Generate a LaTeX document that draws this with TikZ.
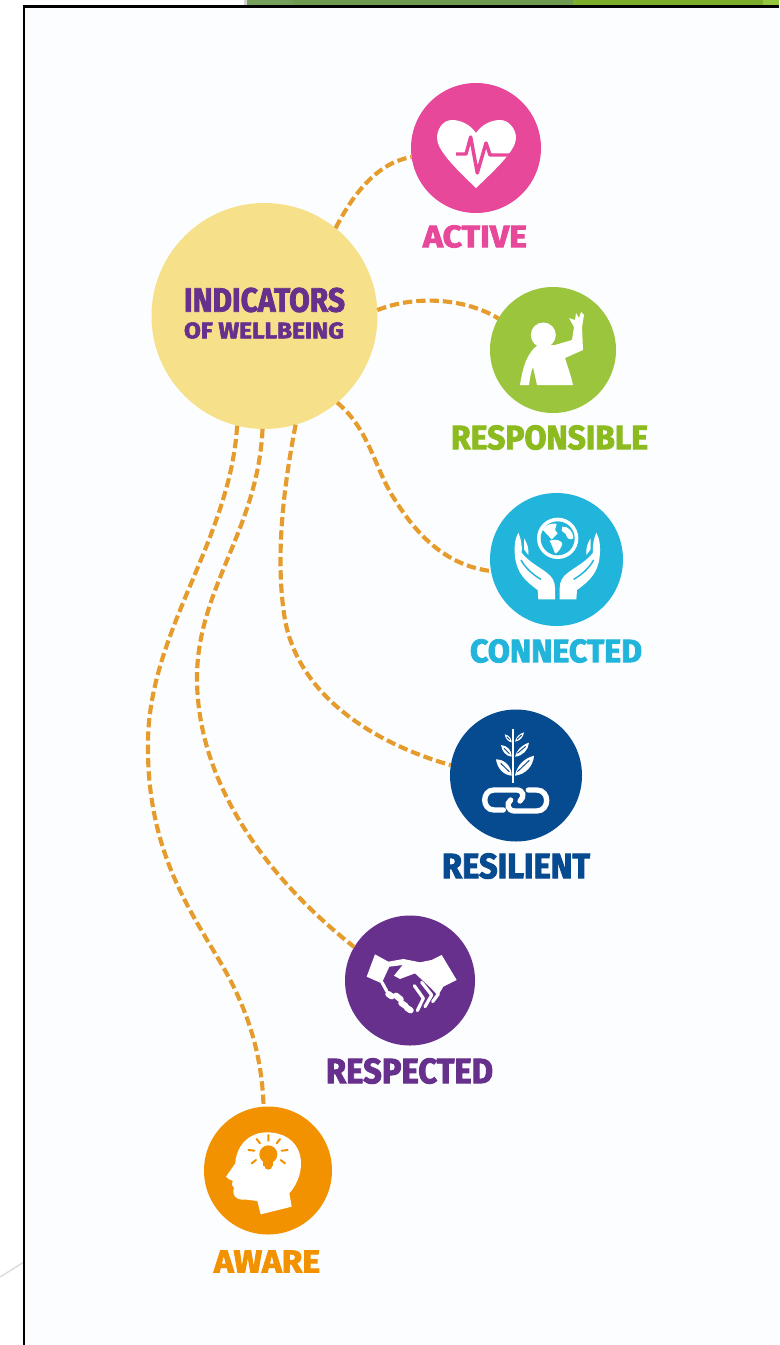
\documentclass[tikz,border=0pt]{standalone}
\usepackage{graphicx}
\usepackage{fontspec}
\newfontfamily\lblfont[BoldFeatures={FakeBold=2.6}]{Fira Sans}
\newdimen\px \px=0.75pt
\newcommand{\lbl}[3]{\resizebox{#2\px}{#3\px}{\lblfont\bfseries #1}}
\definecolor{cpink}{HTML}{E8489A}
\definecolor{cgreen}{HTML}{9BC53D}
\definecolor{cgreent}{HTML}{8CBB1F}
\definecolor{cblue}{HTML}{22B5DC}
\definecolor{cnavy}{HTML}{064A8F}
\definecolor{cpurple}{HTML}{66308C}
\definecolor{corange}{HTML}{F39200}
\definecolor{cyellow}{HTML}{F7E08A}
\definecolor{clink}{HTML}{E59C2C}
\definecolor{paper}{HTML}{FCFDFE}
\definecolor{banda}{HTML}{74A05B}
\definecolor{bandb}{HTML}{6E9B50}
\definecolor{bandc}{HTML}{7DAE2B}
\definecolor{bandd}{HTML}{93C83E}
\tikzset{
  disc/.style={circle,inner sep=0pt,outer sep=0pt,draw=none},
  caption/.style={inner sep=0pt,outer sep=0pt,anchor=center},
  linkline/.style={draw=clink,line width=3.1pt,dash pattern=on 7pt off 3pt},
  zoomed/.style={x=.25pt,y=-.25pt},
}
\begin{document}
\begin{tikzpicture}[x=.75pt,y=-.75pt]
\useasboundingbox (0,0) rectangle (779,1345);
% surroundings
\fill[white] (0,0) rectangle (779,1345);
\fill[black!18] (244,0) rectangle (247,6);
\fill[banda] (247,0) rectangle (293,6);
\fill[bandb] (293,0) rectangle (573,6);
\fill[bandc] (573,0) rectangle (763,6);
\fill[bandd] (763,0) rectangle (779,6);
\draw[black!14,line width=1pt] (0,1277) -- (24,1262);
\fill[paper] (24,6) rectangle (779,1345);
\draw[black,line width=1.9pt] (779,6.5) -- (24,6.5) -- (24,1345);
% nodes
\node[disc,fill=cyellow,minimum size=169.5pt] (hub) at (264.5,316) {};
\node[disc,fill=cpink,minimum size=97.5pt] (active) at (476,148) {};
\node[disc,fill=cgreen,minimum size=94.5pt] (responsible) at (553,350) {};
\node[disc,fill=cblue,minimum size=99.75pt] (connected) at (556.5,559.5) {};
\node[disc,fill=cnavy,minimum size=99pt] (resilient) at (516,775.5) {};
\node[disc,fill=cpurple,minimum size=97.5pt] (respected) at (410,980.5) {};
\node[disc,fill=corange,minimum size=96pt] (aware) at (268,1170.5) {};
% captions
\node[caption,text=cpurple] (t1) at (264.5,300) {\lbl{INDICATORS}{161}{24}};
\node[caption,text=cpurple] (t2) at (264,330.5) {\lbl{OF WELLBEING}{160}{16}};
\node[caption,text=cpink] (t3) at (475,236.5) {\lbl{ACTIVE}{104}{22}};
\node[caption,text=cgreent] (t4) at (549.5,437.5) {\lbl{RESPONSIBLE}{197}{24}};
\node[caption,text=cblue] (t5) at (556,651) {\lbl{CONNECTED}{172}{23}};
\node[caption,text=cnavy] (t6) at (516,866) {\lbl{RESILIENT}{148}{25}};
\node[caption,text=cpurple] (t7) at (409.5,1071) {\lbl{RESPECTED}{167}{25}};
\node[caption,text=corange] (t8) at (267,1261.5) {\lbl{AWARE}{106}{22}};
% connectors
\draw[linkline] (hub.51) .. controls (355,190) and (380,162) .. (active.188);
\draw[linkline] (hub.3) .. controls (415,295) and (465,298) .. (responsible.150);
\draw[linkline] (hub.-50.5) .. controls (370,430) and (375,470) .. (395,500) .. controls (420,540) and (450,566) .. (connected.190);
\draw[linkline] (hub.-74.4) .. controls (283,490) and (275,560) .. (285,620) .. controls (300,700) and (380,745) .. (resilient.171);
\draw[linkline] (hub.-91) .. controls (258,530) and (196,590) .. (197,680) .. controls (198,790) and (275,885) .. (respected.149);
\draw[linkline] (hub.-104) .. controls (230,540) and (150,630) .. (148,740) .. controls (146,850) and (190,910) .. (222,965) .. controls (245,1005) and (262,1050) .. (aware.94.5);
% heart icon
\fill[white] (476,133) .. controls (470,124) and (460,120) .. (452,120) .. controls (443,120) and (437,129) .. (437,138) .. controls (437,150) and (455,168) .. (476,188) .. controls (497,168) and (516,150) .. (516,138) .. controls (516,129) and (509,120) .. (500,120) .. controls (492,120) and (482,124) .. (476,133) -- cycle;
\draw[cpink,line width=2.6pt,line join=round] (456,154) -- (466,154) -- (470.7,137) -- (477.3,173) -- (486,143) -- (490,155) -- (511,155);
% person icon
\fill[white] (543.3,335) circle (12.5);
\fill[white] (538,345) .. controls (528,352) and (523,365) .. (520,385) -- (529,385) .. controls (530,378) and (531,371) .. (533,367) -- (537,385) -- (573,385) .. controls (570,372) and (567,365) .. (565,358) -- (583,350) -- (582,327) -- (584,315) -- (581,312) -- (579,318) -- (576,313) -- (575,320) -- (569,318) -- (574,327) -- (572,340) -- (555,345) -- cycle;
% globe and hands
\begin{scope}[shift={(505,510)},zoomed]
\fill[white] (158,85) circle (62);
\fill[cblue] (158,85) circle (51);
\fill[white] (112,58) .. controls (125,42) and (145,38) .. (155,42) -- (150,60) -- (158,70) -- (140,88) -- (125,72) -- cycle;
\fill[white] (134,92) .. controls (150,85) and (172,92) .. (172,102) .. controls (168,115) and (158,130) .. (150,130) .. controls (146,118) and (140,105) .. (134,92) -- cycle;
\fill[white] (172,50) .. controls (190,48) and (205,65) .. (205,85) .. controls (195,92) and (185,85) .. (182,72) -- (170,62) -- cycle;
\foreach \m in {1,-1}{
\begin{scope}[xshift=39.25pt,xscale=\m,xshift=-39.25pt]
\fill[white] (150,268) -- (100,268) -- (98,240) .. controls (60,212) and (36,190) .. (30,140) .. controls (27,110) and (30,85) .. (40,68) .. controls (48,85) and (52,110) .. (50,128) .. controls (70,155) and (105,172) .. (125,188) .. controls (142,200) and (150,215) .. (150,235) -- cycle;
\fill[white] (57,85) .. controls (66,98) and (72,115) .. (70,135) -- (57,118) -- cycle;
\draw[cblue,line width=1.1pt] (48,150) .. controls (62,175) and (85,195) .. (108,208);
\end{scope}}
\end{scope}
% plant and chain
\begin{scope}[shift={(470,725)},zoomed]
\draw[white,line width=1.4pt] (130,12) -- (130,175);
\fill[white] (125,152) .. controls (100,150) and (82,130) .. (78,103) .. controls (105,103) and (125,125) .. (125,152) -- cycle;
\fill[white] (135,152) .. controls (140,122) and (162,100) .. (192,92) .. controls (190,122) and (168,148) .. (135,152) -- cycle;
\fill[white] (125,95) .. controls (108,93) and (96,80) .. (93,60) .. controls (112,62) and (125,75) .. (125,95) -- cycle;
\fill[white] (135,95) .. controls (140,75) and (155,60) .. (177,53) .. controls (175,75) and (158,93) .. (135,95) -- cycle;
\fill[white] (125,52) .. controls (115,50) and (106,42) .. (104,28) .. controls (116,30) and (125,40) .. (125,52) -- cycle;
\fill[white] (135,50) .. controls (138,36) and (148,26) .. (162,22) .. controls (160,36) and (150,48) .. (135,50) -- cycle;
\draw[cnavy,line width=.7pt] (118,140) -- (92,115) (142,140) -- (178,106) (118,86) -- (102,70) (142,85) -- (167,64) (119,44) -- (110,35) (141,43) -- (155,30);
\draw[white,line width=4pt,line cap=round] (100,255) -- (72,255) .. controls (35,255) and (35,195) .. (72,195) -- (140,195) .. controls (160,195) and (165,215) .. (150,228);
\draw[white,line width=4pt,line cap=round] (175,195) -- (200,195) .. controls (240,195) and (240,258) .. (200,258) -- (135,258) .. controls (112,258) and (108,235) .. (122,225);
\end{scope}
% handshake
\begin{scope}[shift={(360,945)},zoomed]
\fill[white] (45,28) -- (85,50) -- (130,42) -- (180,52) -- (215,45) -- (245,30) -- (290,105) -- (250,125) -- (235,150) -- (165,85) -- (120,102) -- (102,92) -- (128,60) -- (88,65) -- (65,115) -- (20,95) -- cycle;
\draw[white,line width=4.6pt,line cap=round] (85,147) -- (95,154) (108,152) -- (122,163) (124,174) -- (137,183) (141,189) -- (152,196);
\draw[white,line width=2.4pt,line cap=round,line join=round] (66,112) -- (80,138) (163,122) -- (190,160) -- (172,197) (185,112) -- (215,150) -- (195,185) (208,115) -- (235,147) -- (218,170);
\end{scope}
% head and bulb
\begin{scope}[shift={(220,1125)},zoomed]
\fill[white] (140,22) .. controls (85,22) and (48,65) .. (46,115) -- (18,155) .. controls (22,162) and (32,165) .. (38,167) -- (36,180) -- (42,188) -- (40,200) .. controls (42,222) and (60,226) .. (80,224) -- (112,228) -- (122,268) -- (215,245) -- (208,205) .. controls (235,175) and (250,130) .. (240,90) .. controls (228,45) and (190,22) .. (140,22) -- cycle;
\fill[corange] (145,88) circle (27);
\fill[corange] (130,100) rectangle (160,122);
\fill[corange] (145,122) circle (12);
\draw[corange,line width=1.5pt,line cap=round] (145,30) -- (145,47) (110,42) -- (120,55) (180,42) -- (170,55) (85,75) -- (103,77) (203,75) -- (185,77) (95,115) -- (108,105) (195,115) -- (182,105);
\end{scope}
\end{tikzpicture}
\end{document}
